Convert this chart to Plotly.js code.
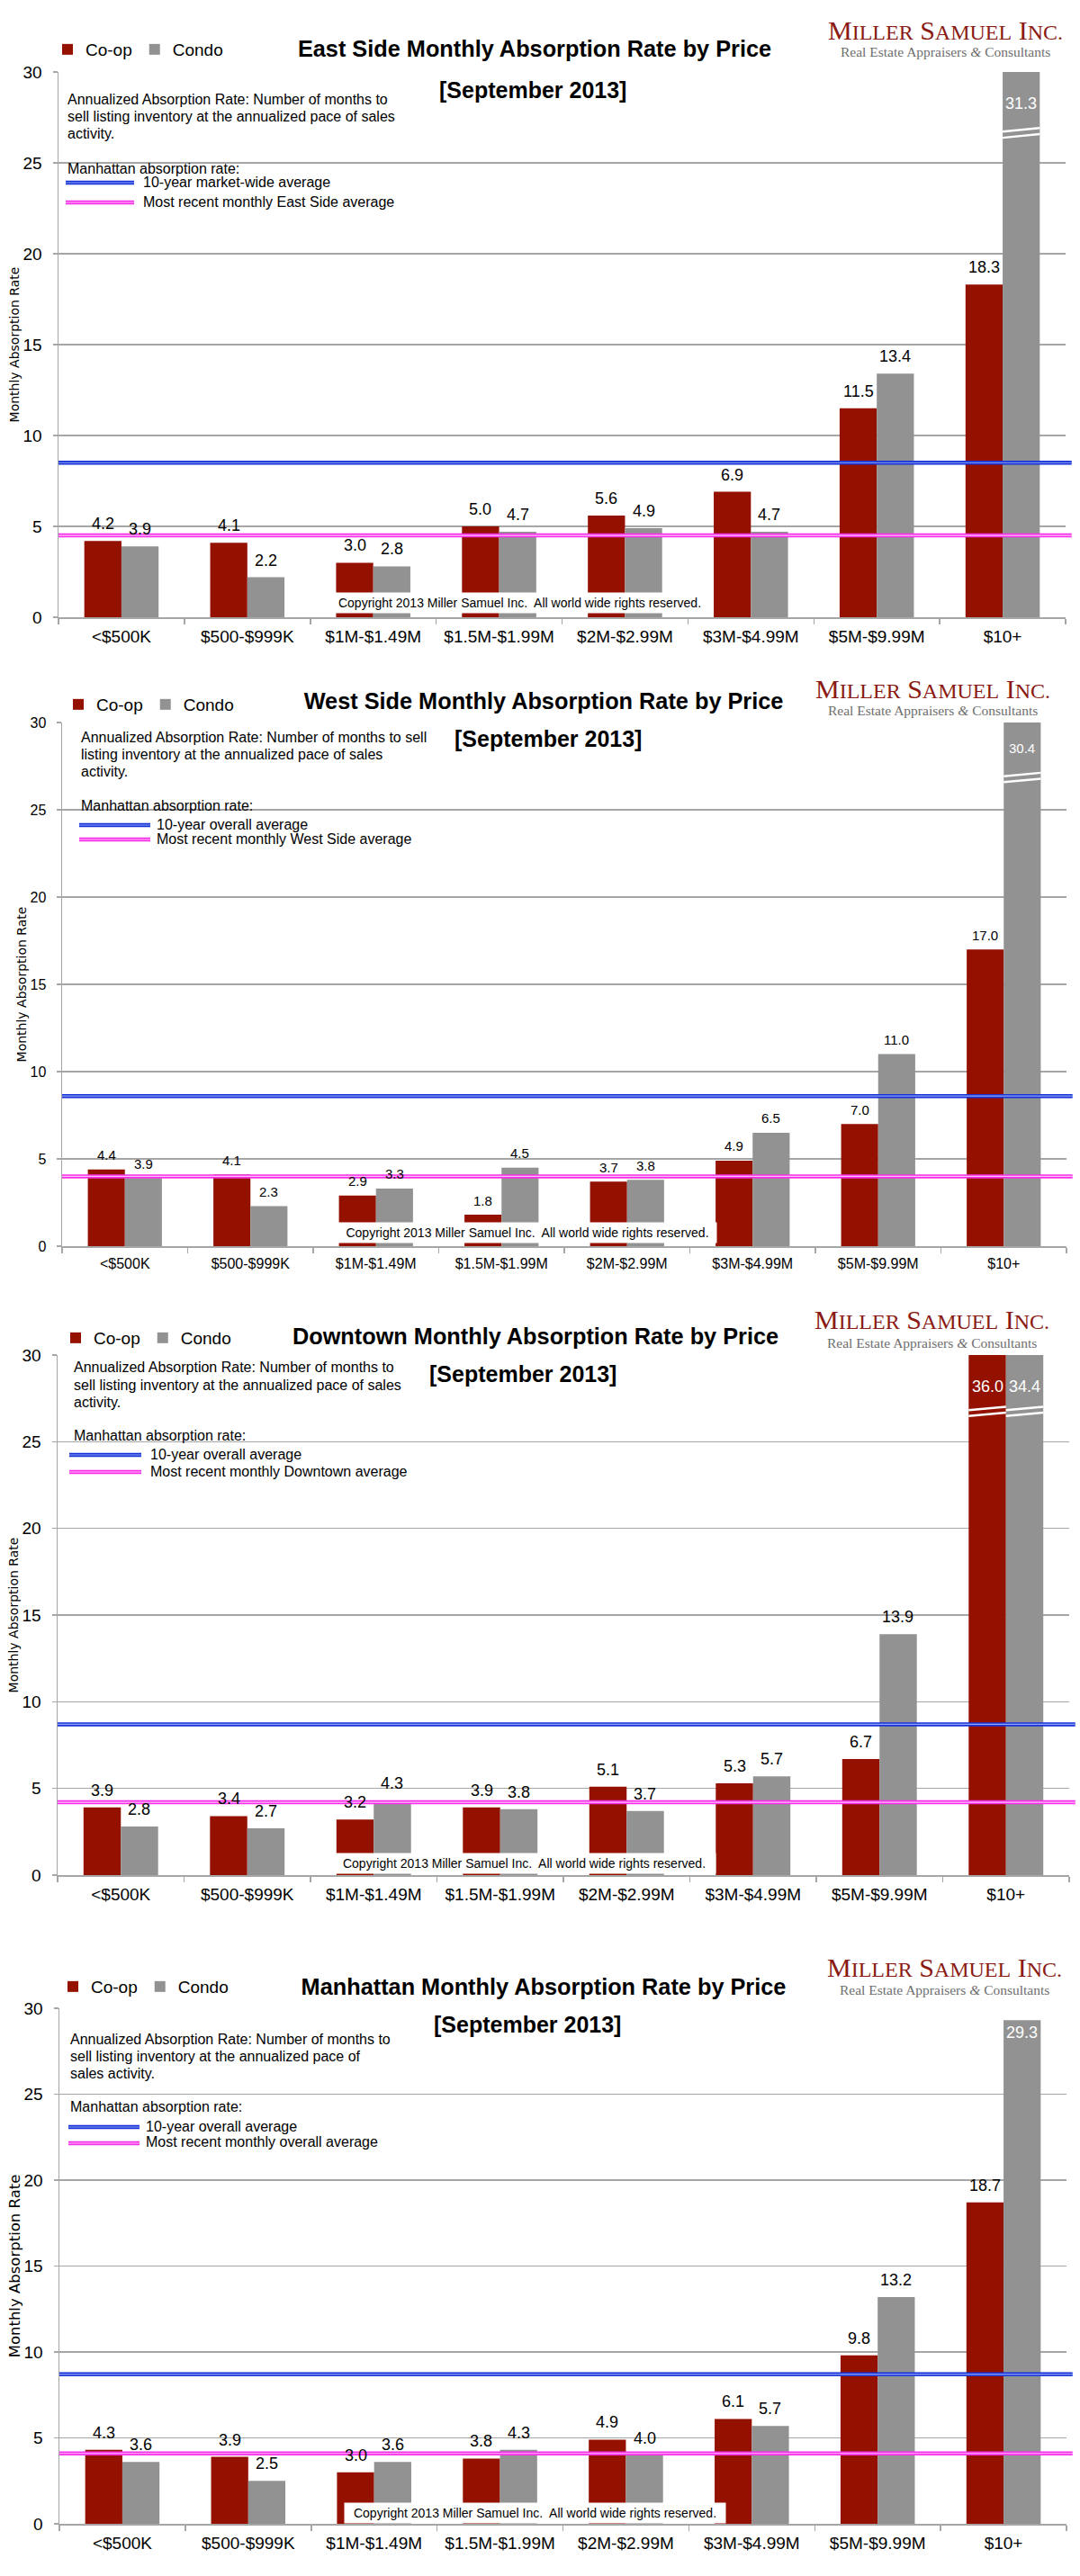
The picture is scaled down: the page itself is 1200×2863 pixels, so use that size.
<!DOCTYPE html>
<html>
<head>
<meta charset="utf-8">
<script src="https://cdn.plot.ly/plotly-3.0.1.min.js"></script>
<style>
  html, body { margin: 0; padding: 0; background: #ffffff; }
  .chart { position: absolute; left: 0; width: 1200px; }
</style>
</head>
<body>
<div id="c0" class="chart"></div>
<div id="c1" class="chart"></div>
<div id="c2" class="chart"></div>
<div id="c3" class="chart"></div>
<script>
// ---------------- DATA ----------------
const categories = ['<$500K', '$500-$999K', '$1M-$1.49M', '$1.5M-$1.99M', '$2M-$2.99M', '$3M-$4.99M', '$5M-$9.99M', '$10+'];
const regionNames = ['East Side', 'West Side', 'Downtown', 'Manhattan'];
const seriesNames = ['Co-op', 'Condo'];

const eastCoop  = [4.2, 4.1, 3.0, 5.0, 5.6, 6.9, 11.5, 18.3];
const eastCondo = [3.9, 2.2, 2.8, 4.7, 4.9, 4.7, 13.4, 31.3];
const westCoop  = [4.4, 4.1, 2.9, 1.8, 3.7, 4.9, 7.0, 17.0];
const westCondo = [3.9, 2.3, 3.3, 4.5, 3.8, 6.5, 11.0, 30.4];
const downCoop  = [3.9, 3.4, 3.2, 3.9, 5.1, 5.3, 6.7, 36.0];
const downCondo = [2.8, 2.7, 4.3, 3.8, 3.7, 5.7, 13.9, 34.4];
const manCoop   = [4.3, 3.9, 3.0, 3.8, 4.9, 6.1, 9.8, 18.7];
const manCondo  = [3.6, 2.5, 3.6, 4.3, 4.0, 5.7, 13.2, 29.3];

const tenYearAvg = [8.5, 8.6, 8.7, 8.7];
const recentAvg  = [4.5, 4.0, 4.2, 4.1];

const yTicks = [0, 5, 10, 15, 20, 25, 30];

const tenYearLabels = ['10-year market-wide average', '10-year overall average', '10-year overall average', '10-year overall average'];
const recentLabels = ['Most recent monthly East Side average', 'Most recent monthly West Side average', 'Most recent monthly Downtown average', 'Most recent monthly overall average'];
const descEast = ['Annualized Absorption Rate: Number of months to', 'sell listing inventory at the annualized pace of sales', 'activity.'];
const descWest = ['Annualized Absorption Rate: Number of months to sell', 'listing inventory at the annualized pace of sales', 'activity.'];
const descDown = ['Annualized Absorption Rate: Number of months to', 'sell listing inventory at the annualized pace of sales', 'activity.'];
const descMan  = ['Annualized Absorption Rate: Number of months to', 'sell listing inventory at the annualized pace of', 'sales activity.'];
const subtitleText = '[September 2013]';
const manhattanLabel = 'Manhattan absorption rate:';
const copyrightText = 'Copyright 2013 Miller Samuel Inc.  All world wide rights reserved.';
const logoParts = [['M', 'ILLER'], ['S', 'AMUEL'], ['I', 'NC.']];
const taglineText = 'Real Estate Appraisers <i>&amp;</i> Consultants';
const yAxisTitle = 'Monthly Absorption Rate';

const coopSeries = [eastCoop, westCoop, downCoop, manCoop];
const condoSeries = [eastCondo, westCondo, downCondo, manCondo];
const descSeries = [descEast, descWest, descDown, descMan];

// ---------------- LAYOUT / STYLE ----------------
const W = 1200;
const FONT = 'Liberation Sans, Arial, Helvetica, sans-serif';
const SERIF = 'Liberation Serif, Times New Roman, serif';
const GRID = '#a6a6a6';
const COOP_COLOR = '#941100';
const CONDO_COLOR = '#929292';
const BARGAP = 0.41;

const frames = [
  {top: 0, h: 720, l: 65, r: 16, t: 80, b: 34, tick: 19, lab: 18, labShift: 19, ttl: 14, standoff: 0,
   titleX: 594, titleY: 54, subX: 592, subY: 100, legX: 55, legY: 55,
   logoX: 1050, logoY: 33, tagY: 58,
   descX: 73, descY: [110, 129, 148], manY: 187, sw0: 73, sw1: 149, blueY: 203, pinkY: 225, swTextX: 157,
   copy0: 365, copy1: 790, copyY: 670, breakY: 26.5, insideShift: -35},
  {top: 720, h: 700, l: 69, r: 15, t: 83, b: 35, tick: 16, lab: 15, labShift: 16, ttl: 14, standoff: 0,
   titleX: 604, titleY: 59, subX: 609, subY: 101, legX: 67, legY: 63,
   logoX: 1036, logoY: 45, tagY: 69,
   descX: 88, descY: [99, 118, 137], manY: 175, sw0: 88, sw1: 167, blueY: 197, pinkY: 213, swTextX: 172,
   copy0: 376, copy1: 796, copyY: 650, breakY: 26.7, insideShift: -28},
  {top: 1420, h: 720, l: 64, r: 12, t: 86, b: 56, tick: 19, lab: 18, labShift: 19, ttl: 14, standoff: 0,
   titleX: 595, titleY: 65, subX: 581, subY: 107, legX: 64, legY: 67,
   logoX: 1035, logoY: 47, tagY: 72,
   descX: 80, descY: [99, 119, 138], manY: 176, sw0: 77, sw1: 157, blueY: 197, pinkY: 216, swTextX: 165,
   copy0: 370, copy1: 795, copyY: 651, breakY: 26.6, insideShift: -35},
  {top: 2140, h: 723, l: 66, r: 15, t: 92, b: 58, tick: 19, lab: 18, labShift: 19, ttl: 16.5, standoff: 0,
   titleX: 604, titleY: 68, subX: 586, subY: 110, legX: 61, legY: 68,
   logoX: 1049, logoY: 46, tagY: 72,
   descX: 76, descY: [126, 145, 164], manY: 202, sw0: 76, sw1: 155, blueY: 224, pinkY: 242, swTextX: 160,
   copy0: 383, copy1: 806, copyY: 653, breakY: 26.6, insideShift: -35}
];

const BLUE_OUT = '#1733d6', BLUE_IN = '#93a6f7';
const PINK_OUT = '#f72ee9', PINK_IN = '#ffc2f7';

function doubleLine(x0, x1, y0, y1, xref, yref, outer, inner) {
  return [
    {type: 'line', xref: xref, yref: yref, x0: x0, x1: x1, y0: y0, y1: y1, line: {color: outer, width: 4.5}},
    {type: 'line', xref: xref, yref: yref, x0: x0, x1: x1, y0: y0, y1: y1, line: {color: inner, width: 1.1}}
  ];
}

function logoHtml(small) {
  return logoParts.map(p => p[0] + '<span style="font-size:' + small + 'px">' + p[1] + '</span>').join(' ');
}

function build(fi) {
  const f = frames[fi];
  const pw = W - f.l - f.r;
  const ph = f.h - f.t - f.b;
  const px = v => (v - f.l) / pw;
  const py = v => 1 - (v - f.t) / ph;
  const yMax = yTicks[yTicks.length - 1];
  const barW = (1 - BARGAP) / 2;
  const seriesData = [coopSeries[fi], condoSeries[fi]];
  const colors = [COOP_COLOR, CONDO_COLOR];

  const traces = seriesData.map((arr, si) => ({
    type: 'bar',
    name: seriesNames[si],
    x: categories,
    y: arr,
    marker: {color: colors[si], line: {width: 0}},
    cliponaxis: true,
    hoverinfo: 'skip'
  }));

  const annotations = [];
  const shapes = [];

  // value labels for every bar (above the bar, or inside its top when it reaches the axis top)
  seriesData.forEach((arr, si) => {
    const off = (si === 0 ? -1 : 1) * barW / 2;
    arr.forEach((v, ci) => {
      const label = v.toFixed(1);
      if (v > yMax) {
        annotations.push({xref: 'x', yref: 'y', x: ci + off, y: yMax, yshift: f.insideShift, xanchor: 'center', yanchor: 'middle',
          text: label, showarrow: false, font: {family: FONT, size: f.lab, color: '#ffffff'}});
        const xa = ci + off - barW / 2, xb = ci + off + barW / 2;
        shapes.push({type: 'line', xref: 'x', yref: 'y', x0: xa, x1: xb, y0: f.breakY - 0.12, y1: f.breakY + 0.08, line: {color: '#ffffff', width: 2.5}});
        shapes.push({type: 'line', xref: 'x', yref: 'y', x0: xa, x1: xb, y0: f.breakY + 0.22, y1: f.breakY + 0.42, line: {color: '#ffffff', width: 2.5}});
      } else if (v > yMax - 1) {
        annotations.push({xref: 'x', yref: 'y', x: ci + off, y: v, yshift: -14, xanchor: 'center', yanchor: 'middle',
          text: label, showarrow: false, font: {family: FONT, size: f.lab, color: '#ffffff'}});
      } else {
        annotations.push({xref: 'x', yref: 'y', x: ci + off, y: v, yshift: f.labShift, xanchor: 'center', yanchor: 'middle',
          text: label, showarrow: false, font: {family: FONT, size: f.lab, color: '#000000'}});
      }
    });
  });

  // subtitle
  annotations.push({xref: 'paper', yref: 'paper', x: px(f.subX), y: py(f.subY), xanchor: 'center', yanchor: 'middle',
    text: subtitleText, showarrow: false, font: {family: FONT, size: 25, weight: 700, color: '#000'}});
  // logo
  annotations.push({xref: 'paper', yref: 'paper', x: px(f.logoX), y: py(f.logoY), xanchor: 'center', yanchor: 'middle',
    text: logoHtml(24), showarrow: false, font: {family: SERIF, size: 30, color: '#8a1a12'}});
  annotations.push({xref: 'paper', yref: 'paper', x: px(f.logoX), y: py(f.tagY), xanchor: 'center', yanchor: 'middle',
    text: taglineText, showarrow: false, font: {family: SERIF, size: 15.5, color: '#6e6e6e'}});
  // description lines
  descSeries[fi].forEach((line, i) => {
    annotations.push({xref: 'paper', yref: 'paper', x: px(f.descX), y: py(f.descY[i]), xanchor: 'left', yanchor: 'middle',
      text: line, showarrow: false, font: {family: FONT, size: 16, color: '#000'}});
  });
  annotations.push({xref: 'paper', yref: 'paper', x: px(f.descX), y: py(f.manY), xanchor: 'left', yanchor: 'middle',
    text: manhattanLabel, showarrow: false, font: {family: FONT, size: 16, color: '#000'}});
  annotations.push({xref: 'paper', yref: 'paper', x: px(f.swTextX), y: py(f.blueY - 1), xanchor: 'left', yanchor: 'middle',
    text: tenYearLabels[fi], showarrow: false, font: {family: FONT, size: 16, color: '#000'}});
  annotations.push({xref: 'paper', yref: 'paper', x: px(f.swTextX), y: py(f.pinkY - 1), xanchor: 'left', yanchor: 'middle',
    text: recentLabels[fi], showarrow: false, font: {family: FONT, size: 16, color: '#000'}});
  // swatches for reference lines
  shapes.push(...doubleLine(px(f.sw0), px(f.sw1), py(f.blueY), py(f.blueY), 'paper', 'paper', BLUE_OUT, BLUE_IN));
  shapes.push(...doubleLine(px(f.sw0), px(f.sw1), py(f.pinkY), py(f.pinkY), 'paper', 'paper', PINK_OUT, PINK_IN));
  // reference lines across the plot
  shapes.push(...doubleLine(0, 1.006, tenYearAvg[fi], tenYearAvg[fi], 'paper', 'y', BLUE_OUT, BLUE_IN));
  shapes.push(...doubleLine(0, 1.006, recentAvg[fi], recentAvg[fi], 'paper', 'y', PINK_OUT, PINK_IN));

  // copyright box
  annotations.push({xref: 'paper', yref: 'paper', x: px((f.copy0 + f.copy1) / 2), y: py(f.copyY), xanchor: 'center', yanchor: 'middle',
    text: copyrightText, showarrow: false, bgcolor: '#ffffff', width: f.copy1 - f.copy0, height: 22, borderpad: 0,
    font: {family: FONT, size: 14, color: '#000'}});

  const layout = {
    width: W, height: f.h,
    margin: {l: f.l, r: f.r, t: f.t, b: f.b, pad: 0},
    paper_bgcolor: '#ffffff', plot_bgcolor: '#ffffff',
    barmode: 'group', bargap: BARGAP, bargroupgap: 0,
    font: {family: FONT, color: '#000000'},
    title: {text: regionNames[fi] + ' Monthly Absorption Rate by Price', xref: 'container', yref: 'container',
      x: f.titleX / W, y: 1 - f.titleY / f.h, xanchor: 'center', yanchor: 'middle',
      font: {family: FONT, size: 25.3, weight: 700, color: '#000'}},
    showlegend: true,
    legend: {orientation: 'h', x: px(f.legX), y: py(f.legY), xanchor: 'left', yanchor: 'middle',
      font: {family: FONT, size: 19, color: '#000'}, itemwidth: 30, bgcolor: 'rgba(0,0,0,0)', borderwidth: 0,
      traceorder: 'normal'},
    xaxis: {type: 'category', tickson: 'boundaries', ticks: 'outside', ticklen: 6, tickwidth: 1.5, tickcolor: GRID,
      showline: true, linecolor: GRID, linewidth: 1.5, showgrid: false, zeroline: false,
      tickfont: {family: FONT, size: f.tick, color: '#000'}, ticklabelstandoff: 4, automargin: false, fixedrange: true},
    yaxis: {range: [0, yMax], tickmode: 'array', tickvals: yTicks, ticktext: yTicks.map(String), ticks: 'outside', ticklen: 5, tickwidth: 1.5, tickcolor: GRID,
      showline: true, linecolor: GRID, linewidth: 1.5, showgrid: true, gridcolor: GRID, gridwidth: 1.5, zeroline: false,
      tickfont: {family: FONT, size: f.tick, color: '#000'}, ticklabelstandoff: 8, automargin: false, fixedrange: true,
      title: {text: yAxisTitle, standoff: f.standoff, font: {family: 'DejaVu Sans, Verdana, sans-serif', size: f.ttl, color: '#000'}}},
    annotations: annotations,
    shapes: shapes
  };

  const el = document.getElementById('c' + fi);
  el.style.top = f.top + 'px';
  el.style.height = f.h + 'px';
  Plotly.newPlot(el, traces, layout, {displayModeBar: false, staticPlot: true});
}

for (let i = 0; i < frames.length; i++) build(i);
</script>
</body>
</html>
